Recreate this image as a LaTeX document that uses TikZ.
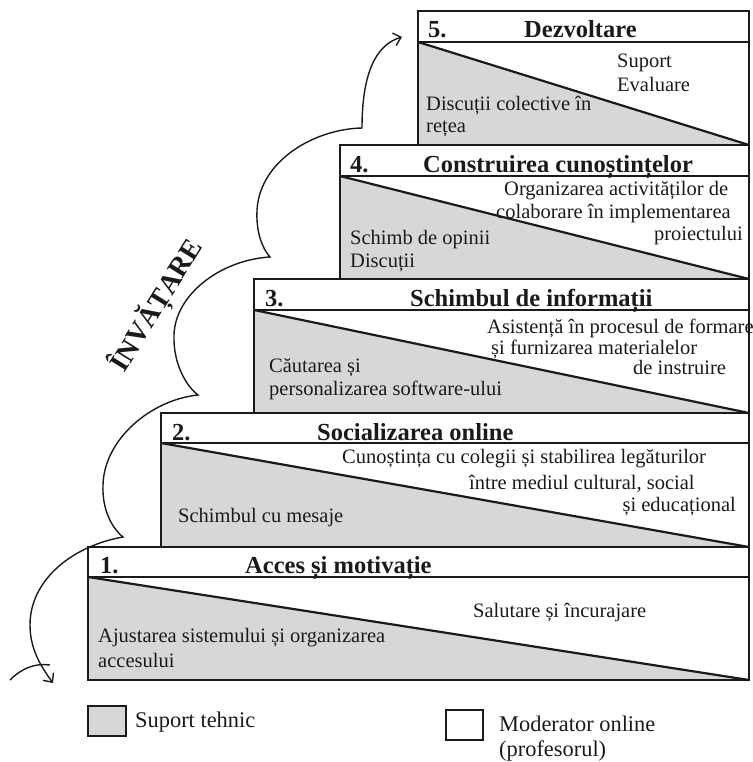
\documentclass[tikz,border=0pt]{standalone}
\usepackage{fontspec}
\setmainfont{Liberation Serif}
\usetikzlibrary{arrows.meta}
\definecolor{techgray}{HTML}{D7D7D7}
\definecolor{ink}{HTML}{1A1A1A}

\begin{document}
\begin{tikzpicture}[x=1pt,y=-1pt,
  steptext/.style={anchor=base west, inner sep=0pt, text=ink,
    font=\fontsize{20.5}{24}\selectfont},
  steptextr/.style={steptext, anchor=base east},
  steptitle/.style={anchor=base west, inner sep=0pt, text=ink,
    font=\fontsize{24.5}{28}\selectfont\bfseries},
  legendtext/.style={anchor=base west, inner sep=0pt, text=ink,
    font=\fontsize{22.4}{26}\selectfont},
  stepframe/.style={draw=ink, line width=1.8pt},
  stepdiag/.style={draw=ink, line width=2.2pt},
  learnpath/.style={draw=ink, line width=1.4pt,
    {Straight Barb[length=7pt,width=13pt,line width=1.4pt]}-{Straight Barb[length=7pt,width=13pt,line width=1.4pt]}},
]
\useasboundingbox (0,0) rectangle (752,762);

% the five steps: left / top / header line / bottom
\foreach \l/\t/\h/\b in {418/11/42/145, 340/145/176/279, 254/279/310/413,
                         161/413/443/547, 88/547/577/680}{
  \fill[techgray] (\l,\h) -- (749,\b) -- (\l,\b) -- cycle;
  \draw[stepframe] (\l,\t) rectangle (749,\b);
  \draw[stepframe] (\l,\h) -- (749,\h);
  \draw[stepdiag] (\l,\h) -- (749,\b);
}

% step 5
\node[steptitle] (n5) at (428,38) {5.};
\node[steptitle] (t5) at (524,38) {Dezvoltare};
\node[steptext] (m5a) at (617,68) {Suport};
\node[steptext] (m5b) at (617,92) {Evaluare};
\node[steptext] (s5a) at (426,111) {Discuții colective în};
\node[steptext] (s5b) at (426,133) {rețea};

% step 4
\node[steptitle] (n4) at (350,172) {4.};
\node[steptitle] (t4) at (423,172) {Construirea cunoștințelor};
\node[steptext] (m4a) at (504,195) {Organizarea activităților de};
\node[steptext] (m4b) at (496,218) {colaborare în implementarea};
\node[steptextr] (m4c) at (743,240) {proiectului};
\node[steptext] (s4a) at (350,244) {Schimb de opinii};
\node[steptext] (s4b) at (350,267) {Discuții};

% step 3
\node[steptitle] (n3) at (265,306) {3.};
\node[steptitle] (t3) at (410,306) {Schimbul de informații};
\node[steptext] (m3a) at (487,333) {Asistență în procesul de formare};
\node[steptext] (m3b) at (491,354) {și furnizarea materialelor};
\node[steptext] (m3c) at (633,374) {de instruire};
\node[steptext] (s3a) at (269,372) {Căutarea și};
\node[steptext] (s3b) at (269,395) {personalizarea software-ului};

% step 2
\node[steptitle] (n2) at (172,440) {2.};
\node[steptitle] (t2) at (317,440) {Socializarea online};
\node[steptext] (m2a) at (342,463) {Cunoștința cu colegii și stabilirea legăturilor};
\node[steptext] (m2b) at (469,489) {între mediul cultural, social};
\node[steptextr] (m2c) at (736,511) {și educațional};
\node[steptext] (s2a) at (178,522) {Schimbul cu mesaje};

% step 1
\node[steptitle] (n1) at (100,573) {1.};
\node[steptitle] (t1) at (245,573) {Acces și motivație};
\node[steptext] (m1a) at (473,617) {Salutare și încurajare};
\node[steptext] (s1a) at (98,642) {Ajustarea sistemului și organizarea};
\node[steptext] (s1b) at (98,667) {accesului};

% legend
\draw[ink, line width=1.5pt, fill=techgray] (88,706) rectangle (126,736);
\node[legendtext] (lg1) at (135,727) {Suport tehnic};
\draw[ink, line width=1.5pt, fill=white] (446,710) rectangle (483,740);
\node[legendtext] (lg2) at (499,731) {Moderator online};
\node[legendtext] (lg3) at (499,756) {(profesorul)};

% scalloped learning path
\coordinate (lstart) at (53,683);
\coordinate (c1) at (123,537);
\coordinate (c2) at (198,395);
\coordinate (c3) at (270,257);
\coordinate (c4) at (362,128);
\coordinate (lend) at (402,37);
\draw[learnpath] (lstart)
  .. controls (42,668) and (30,650) .. (30,625)
  .. controls (30,580) and (72,546) .. (c1)
  .. controls (112,528) and (102,510) .. (103,485)
  .. controls (104,440) and (150,400) .. (c2)
  .. controls (185,385) and (173,362) .. (174,335)
  .. controls (175,295) and (220,260) .. (c3)
  .. controls (262,248) and (256,232) .. (257,210)
  .. controls (260,160) and (315,129) .. (c4)
  .. controls (362,75) and (375,45) .. (lend);
\coordinate (tailA) at (10,680);
\coordinate (tailB) at (50,665);
\draw[ink, line width=1.4pt] (tailA) .. controls (22,668) and (35,663) .. (tailB);

% rotated label along the path
\begin{scope}[shift={(164,310)}]
  \node[rotate=58, anchor=base, inner sep=0pt, text=ink,
    font=\fontsize{28}{31}\selectfont\bfseries] (learn) at (0,0) {ÎNVĂȚARE};
\end{scope}
\end{tikzpicture}
\end{document}
